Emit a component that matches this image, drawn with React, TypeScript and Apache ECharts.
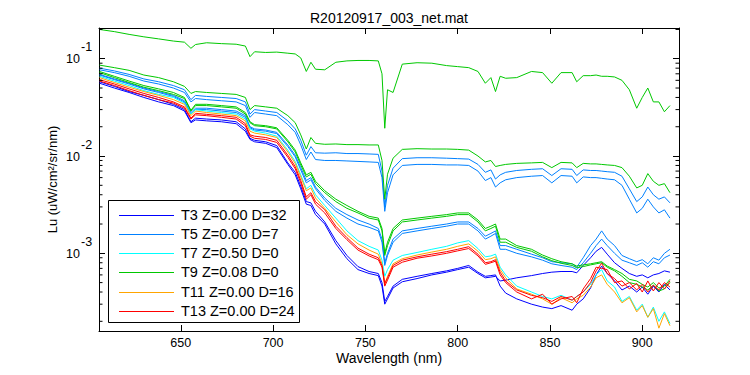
import React, { useEffect, useRef } from "react";
import * as echarts from "echarts";

const FONT = "'Liberation Sans', Arial, Helvetica, sans-serif";
const TITLE = "R20120917_003_net.mat";
const X_LABEL = "Wavelength (nm)";
const Y_LABEL = "Lu (uW/cm²/sr/nm)";
const X_TICKS = [650, 700, 750, 800, 850, 900];
const Y_DECADES = [-1, -2, -3];
const MINOR_MULTIPLIERS = [2, 3, 4, 5, 6, 7, 8, 9];
const MINOR_DECADES = [-4, -3, -2, -1];
const X_MIN = 605.7;
const X_MAX = 919.9;
const Y_MIN = 1.59e-4;
const Y_MAX = 0.207;

const T3 = "T3 Z=0.00 D=32";
const T5 = "T5 Z=0.00 D=7";
const T7 = "T7 Z=0.50 D=0";
const T9 = "T9 Z=0.08 D=0";
const T11 = "T11 Z=0.00 D=16";
const T13 = "T13 Z=0.00 D=24";
const LEGEND_NAMES = [T3, T5, T7, T9, T11, T13];
const LEGEND_COLORS = ["#0000ff", "#0080ff", "#00ffff", "#00c800", "#ffa500", "#ff0000"];
const colorOf = (name: string) => LEGEND_COLORS[LEGEND_NAMES.indexOf(name)];

const WAVELENGTH = [
  606, 614, 622, 630, 638, 646, 652, 655.5, 658, 664,
  672, 680, 685, 687.5, 690, 696, 702, 708, 712, 715,
  718, 720.5, 723, 728, 734, 740, 746, 752, 757, 759,
  760.5, 762, 765, 770, 778, 786, 794, 800, 806, 811,
  815, 818, 820.5, 823, 826, 832, 840, 846, 851, 856,
  862, 864.5, 868, 872, 875, 878, 881, 885, 889, 893,
  897, 900, 903, 906, 909, 912, 915,
];

const T3_A = [
  0.058, 0.052, 0.046, 0.042, 0.038, 0.034, 0.030, 0.0225, 0.0245, 0.024,
  0.0235, 0.0225, 0.019, 0.0152, 0.0145, 0.014, 0.0128, 0.0085, 0.0068, 0.0049,
  0.0034, 0.0033, 0.0027, 0.0021, 0.00135, 0.00095, 0.00073, 0.00065, 0.00062, 0.0005,
  0.00032, 0.00036, 0.00046, 0.00054, 0.00058, 0.00062, 0.00066, 0.0007, 0.00075, 0.00064,
  0.00058, 0.00059, 0.0006, 0.00046, 0.00039, 0.00034, 0.0003, 0.00028, 0.00027, 0.00029,
  0.00026, 0.0003, 0.00034, 0.00044, 0.0006, 0.00074, 0.00062, 0.00052, 0.00042, 0.00046,
  0.0004, 0.00045, 0.00038, 0.00046, 0.0004, 0.00048, 0.00042,
];
const T3_B = [
  0.056, 0.05, 0.045, 0.04, 0.036, 0.033, 0.029, 0.022, 0.0235, 0.023,
  0.0225, 0.0215, 0.018, 0.0148, 0.014, 0.0135, 0.0122, 0.0082, 0.0064, 0.0046,
  0.0032, 0.0031, 0.0025, 0.002, 0.00125, 0.00088, 0.00068, 0.00062, 0.00059, 0.00046,
  0.0003, 0.00034, 0.00044, 0.00051, 0.00055, 0.0006, 0.00064, 0.00068, 0.00072, 0.00062,
  0.00056, 0.00057, 0.00058, 0.00052, 0.00053, 0.00056, 0.00059, 0.00062, 0.00064, 0.00065,
  0.00065, 0.00063, 0.00075, 0.0009, 0.00105, 0.00115, 0.00098, 0.0008, 0.0007, 0.00062,
  0.00058, 0.0006, 0.00056, 0.0006, 0.00062, 0.00066, 0.00064,
];
const T5_UP_A = [
  0.08, 0.075, 0.069, 0.062, 0.058, 0.053, 0.048, 0.038, 0.042, 0.041,
  0.04, 0.039, 0.036, 0.027, 0.03, 0.029, 0.028, 0.023, 0.019, 0.0145,
  0.0102, 0.0125, 0.0108, 0.0107, 0.0108, 0.0106, 0.0106, 0.0105, 0.0104, 0.007,
  0.003, 0.005, 0.0075, 0.0094, 0.0096, 0.0096, 0.0095, 0.0094, 0.0093, 0.0082,
  0.0068, 0.0072, 0.0058, 0.0064, 0.0068, 0.0071, 0.0073, 0.0074, 0.0063, 0.0074,
  0.0073, 0.0063, 0.0072, 0.0071, 0.0071, 0.007, 0.0069, 0.0068, 0.0062, 0.0046,
  0.0034, 0.0038, 0.0048, 0.004, 0.0036, 0.0038, 0.0033,
];
const T5_UP_B = [
  0.077, 0.072, 0.066, 0.059, 0.055, 0.05, 0.045, 0.036, 0.039, 0.038,
  0.037, 0.036, 0.033, 0.025, 0.028, 0.027, 0.026, 0.021, 0.0175, 0.013,
  0.0092, 0.011, 0.0092, 0.009, 0.009, 0.0089, 0.0088, 0.0087, 0.0086, 0.006,
  0.0027, 0.0042, 0.0064, 0.008, 0.0082, 0.0082, 0.0081, 0.0081, 0.008, 0.007,
  0.0056, 0.006, 0.0048, 0.0053, 0.0057, 0.006, 0.0062, 0.0063, 0.0053, 0.0063,
  0.0062, 0.0053, 0.0061, 0.006, 0.006, 0.0059, 0.0058, 0.0057, 0.005, 0.0036,
  0.0026, 0.0029, 0.0036, 0.003, 0.0026, 0.0028, 0.0023,
];
const T5_LOW_A = [
  0.069, 0.062, 0.056, 0.05, 0.046, 0.042, 0.037, 0.028, 0.031, 0.031,
  0.03, 0.029, 0.026, 0.02, 0.019, 0.0185, 0.0175, 0.013, 0.0102, 0.0076,
  0.0056, 0.006, 0.0048, 0.0037, 0.0029, 0.0025, 0.0022, 0.002, 0.0018, 0.0014,
  0.0008, 0.001, 0.0014, 0.0017, 0.0018, 0.0019, 0.002, 0.0021, 0.0021, 0.0018,
  0.0015, 0.0016, 0.0017, 0.0012, 0.0012, 0.0011, 0.00098, 0.0009, 0.00082, 0.0008,
  0.00078, 0.00072, 0.0009, 0.0012, 0.0014, 0.0017, 0.0014, 0.0012, 0.00095, 0.00088,
  0.00082, 0.00086, 0.00078, 0.0009, 0.00085, 0.001, 0.0011,
];
const T5_LOW_B = [
  0.068, 0.061, 0.055, 0.049, 0.045, 0.041, 0.036, 0.027, 0.03, 0.03,
  0.029, 0.028, 0.025, 0.0195, 0.0185, 0.018, 0.017, 0.0125, 0.0098, 0.0072,
  0.0053, 0.0057, 0.0046, 0.0035, 0.0027, 0.0023, 0.002, 0.00185, 0.0017, 0.0013,
  0.00075, 0.00095, 0.0013, 0.0016, 0.0017, 0.0018, 0.0019, 0.002, 0.002, 0.0017,
  0.0014, 0.0015, 0.0016, 0.0011, 0.0011, 0.001, 0.00092, 0.00085, 0.00078, 0.00075,
  0.00072, 0.00068, 0.0008, 0.001, 0.0012, 0.0014, 0.0012, 0.001, 0.00085, 0.0008,
  0.00075, 0.0008, 0.00072, 0.00082, 0.00078, 0.0009, 0.00096,
];
const T7_A = [
  0.066, 0.059, 0.053, 0.047, 0.043, 0.04, 0.035, 0.027, 0.03, 0.029,
  0.028, 0.027, 0.024, 0.019, 0.018, 0.0172, 0.016, 0.0115, 0.0088, 0.0064,
  0.0046, 0.005, 0.004, 0.0031, 0.0023, 0.0017, 0.00135, 0.00118, 0.00108, 0.00085,
  0.00058, 0.00068, 0.00085, 0.00095, 0.00102, 0.0011, 0.00118, 0.00128, 0.00135, 0.00112,
  0.00092, 0.00094, 0.00098, 0.00072, 0.0006, 0.00046, 0.0004, 0.00036, 0.00034, 0.00037,
  0.00033, 0.00036, 0.0004, 0.00048, 0.0006, 0.00068, 0.00052, 0.00045, 0.00032, 0.00036,
  0.00026, 0.0003, 0.00022, 0.00028, 0.0002, 0.00025, 0.00019,
];
const T9_TOP = [
  0.2, 0.19, 0.178, 0.168, 0.16, 0.152, 0.148, 0.128, 0.14, 0.146,
  0.143, 0.141, 0.135, 0.105, 0.118, 0.116, 0.117, 0.114, 0.112, 0.102,
  0.074, 0.092, 0.078, 0.077, 0.092, 0.095, 0.096, 0.096, 0.095, 0.07,
  0.0193, 0.048, 0.045, 0.088, 0.091, 0.09, 0.085, 0.083, 0.081, 0.074,
  0.056, 0.064, 0.046, 0.066, 0.063, 0.064, 0.074, 0.072, 0.056, 0.072,
  0.072, 0.058, 0.067, 0.067, 0.068, 0.066, 0.066, 0.065, 0.06, 0.048,
  0.031, 0.04, 0.05, 0.036, 0.036, 0.0285, 0.033,
];
const T9_UP = [
  0.086, 0.081, 0.076, 0.068, 0.064, 0.058, 0.052, 0.044, 0.046, 0.045,
  0.044, 0.043, 0.04, 0.03, 0.033, 0.032, 0.031, 0.026, 0.022, 0.0165,
  0.0118, 0.0155, 0.0135, 0.0132, 0.0133, 0.0131, 0.0131, 0.013, 0.013, 0.009,
  0.0036, 0.0065, 0.0095, 0.0117, 0.0119, 0.0118, 0.0118, 0.0117, 0.0115, 0.01,
  0.0087, 0.009, 0.0078, 0.008, 0.0082, 0.0084, 0.0085, 0.0086, 0.0076, 0.0086,
  0.0085, 0.0076, 0.0084, 0.0083, 0.0083, 0.0082, 0.0081, 0.008, 0.0076, 0.0062,
  0.0047, 0.005, 0.0066, 0.0055, 0.005, 0.0052, 0.0042,
];
const T9_LOW_A = [
  0.074, 0.066, 0.059, 0.053, 0.049, 0.045, 0.04, 0.0295, 0.034, 0.034,
  0.033, 0.032, 0.028, 0.0225, 0.021, 0.0205, 0.0195, 0.0145, 0.0115, 0.0085,
  0.0064, 0.0068, 0.0055, 0.0044, 0.0036, 0.0031, 0.0027, 0.0024, 0.0023, 0.0018,
  0.001, 0.0013, 0.0018, 0.0022, 0.0023, 0.0024, 0.0025, 0.0026, 0.0026, 0.0022,
  0.0018, 0.0019, 0.002, 0.0014, 0.0014, 0.0012, 0.0011, 0.00096, 0.00088, 0.00082,
  0.00078, 0.00074, 0.00076, 0.00078, 0.0008, 0.00082, 0.00074, 0.00068, 0.00062, 0.00054,
  0.00052, 0.00048, 0.00045, 0.0005, 0.00044, 0.00046, 0.00054,
];
const T9_LOW_B = [
  0.072, 0.064, 0.057, 0.051, 0.047, 0.043, 0.039, 0.029, 0.033, 0.033,
  0.032, 0.031, 0.027, 0.022, 0.0205, 0.02, 0.019, 0.014, 0.011, 0.0081,
  0.0061, 0.0065, 0.0052, 0.0042, 0.0034, 0.0029, 0.0026, 0.0023, 0.0022, 0.0017,
  0.00095, 0.0012, 0.0017, 0.0021, 0.0022, 0.0023, 0.0024, 0.0025, 0.0025, 0.0021,
  0.0017, 0.0018, 0.0019, 0.0013, 0.0013, 0.00115, 0.00105, 0.00092, 0.00084, 0.00079,
  0.00075, 0.00071, 0.00073, 0.00076, 0.00078, 0.0008, 0.00072, 0.00066, 0.00058, 0.0005,
  0.00048, 0.00045, 0.00042, 0.00047, 0.00041, 0.00043, 0.0005,
];
const T11_A = [
  0.064, 0.057, 0.051, 0.046, 0.042, 0.038, 0.034, 0.026, 0.029, 0.028,
  0.027, 0.026, 0.023, 0.018, 0.0172, 0.0165, 0.0155, 0.011, 0.0084, 0.0061,
  0.0044, 0.0047, 0.0037, 0.0029, 0.0021, 0.00155, 0.00125, 0.00108, 0.00098, 0.00078,
  0.00048, 0.00058, 0.00078, 0.00088, 0.00096, 0.00103, 0.0011, 0.00118, 0.00125, 0.00105,
  0.00086, 0.00088, 0.00092, 0.00068, 0.00056, 0.00043, 0.00038, 0.00034, 0.0003, 0.00035,
  0.00031, 0.00034, 0.00037, 0.00045, 0.00056, 0.0006, 0.00048, 0.0004, 0.00031, 0.00035,
  0.00025, 0.00029, 0.00022, 0.00027, 0.00017, 0.00024, 0.00018,
];
const T13_A = [
  0.061, 0.055, 0.049, 0.044, 0.04, 0.036, 0.032, 0.0245, 0.0275, 0.0268,
  0.026, 0.025, 0.0215, 0.0165, 0.016, 0.0155, 0.0145, 0.0102, 0.0078, 0.0056,
  0.0038, 0.0042, 0.0034, 0.0028, 0.0019, 0.00145, 0.00113, 0.00098, 0.0009, 0.00075,
  0.00049, 0.00056, 0.00075, 0.00085, 0.00092, 0.00098, 0.00104, 0.0011, 0.00117, 0.00098,
  0.0008, 0.00082, 0.00086, 0.00064, 0.00052, 0.00042, 0.00037, 0.00035, 0.00032, 0.00036,
  0.00033, 0.00036, 0.0004, 0.0005, 0.00066, 0.00079, 0.00062, 0.00055, 0.00046, 0.0005,
  0.00042, 0.00048, 0.0004, 0.00047, 0.00042, 0.0005, 0.00045,
];
const T13_B = [
  0.059, 0.053, 0.047, 0.042, 0.038, 0.035, 0.031, 0.024, 0.0265, 0.026,
  0.025, 0.024, 0.0205, 0.016, 0.0152, 0.0148, 0.0138, 0.0097, 0.0074, 0.0053,
  0.0036, 0.004, 0.0032, 0.0026, 0.0018, 0.00138, 0.00108, 0.00094, 0.00086, 0.00072,
  0.00046, 0.00053, 0.00072, 0.00081, 0.00089, 0.00094, 0.001, 0.00106, 0.00112, 0.00094,
  0.00077, 0.0008, 0.00083, 0.0006, 0.0005, 0.0004, 0.00034, 0.00038, 0.0003, 0.00034,
  0.00036, 0.00031, 0.00043, 0.00055, 0.00072, 0.0007, 0.00068, 0.0005, 0.00052, 0.00043,
  0.00049, 0.0004, 0.00052, 0.00041, 0.0005, 0.00043, 0.00052,
];

const SERIES_DEFS: [string, number[]][] = [
  [T3, T3_A],
  [T3, T3_B],
  [T5, T5_UP_A],
  [T5, T5_UP_B],
  [T5, T5_LOW_A],
  [T5, T5_LOW_B],
  [T7, T7_A],
  [T9, T9_TOP],
  [T9, T9_UP],
  [T9, T9_LOW_A],
  [T9, T9_LOW_B],
  [T11, T11_A],
  [T13, T13_A],
  [T13, T13_B],
];

const axisLine = { show: true, onZero: false, lineStyle: { color: "#000", width: 1 } };
const tickIn = { show: true, inside: true, length: 6, lineStyle: { color: "#000", width: 1 } };

export default function App() {
  const ref = useRef<HTMLDivElement>(null);
  useEffect(() => {
    document.body.style.margin = "0";
    const chart = echarts.init(ref.current!, null, { renderer: "svg" });
    const option: any = {
      animation: false,
      backgroundColor: "#ffffff",
      textStyle: { fontFamily: FONT, color: "#000" },
      grid: { left: 99, right: 71, top: 28, bottom: 44, containLabel: false, outerBoundsMode: "none" },
      xAxis: [
        {
          type: "value",
          position: "bottom",
          min: X_MIN,
          max: X_MAX,
          axisLine,
          axisTick: tickIn,
          splitLine: { show: false },
          axisLabel: {
            show: true,
            margin: 5,
            color: "#000",
            fontSize: 12.5,
            fontFamily: FONT,
            formatter: (v: number) => (X_TICKS.includes(v) ? String(v) : ""),
          },
        },
        {
          type: "value",
          position: "top",
          min: X_MIN,
          max: X_MAX,
          axisLine,
          axisTick: tickIn,
          splitLine: { show: false },
          axisLabel: { show: false },
        },
      ],
      yAxis: [
        {
          type: "log",
          logBase: 10,
          position: "left",
          min: Y_MIN,
          max: Y_MAX,
          axisLine,
          axisTick: tickIn,
          splitLine: { show: false },
          axisLabel: { show: false },
        },
        {
          type: "log",
          logBase: 10,
          position: "right",
          min: Y_MIN,
          max: Y_MAX,
          axisLine,
          axisTick: tickIn,
          splitLine: { show: false },
          axisLabel: { show: false },
        },
      ],
      series: SERIES_DEFS.map(([name, vals]) => ({
        type: "line",
        name,
        xAxisIndex: 0,
        yAxisIndex: 0,
        data: WAVELENGTH.map((w, i) => [w, vals[i]]),
        showSymbol: false,
        symbol: "none",
        silent: true,
        color: colorOf(name),
        lineStyle: { color: colorOf(name), width: 1 },
      })),
    };
    chart.setOption(option);

    const toPx = (x: number, y: number) =>
      chart.convertToPixel({ seriesIndex: 0 }, [x, y]) as number[];
    const [xl, yb] = toPx(X_MIN, Y_MIN);
    const [xr, yt] = toPx(X_MAX, Y_MAX);
    const g: any[] = [];
    const txt = (id: string, text: string, x: number, y: number, size: number, align: string, extra: any = {}) => ({
      type: "text",
      id,
      x,
      y,
      z: 300,
      ...extra,
      style: {
        text,
        fill: "#000",
        fontFamily: FONT,
        fontSize: size,
        textAlign: align,
        align,
        textVerticalAlign: "middle",
        verticalAlign: "middle",
      },
    });
    g.push(txt("title", TITLE, (xl + xr) / 2, 18, 14, "center"));
    g.push(txt("xname", X_LABEL, (xl + xr) / 2, yb + 27, 14, "center"));
    g.push(txt("yname", Y_LABEL, xl - 47, (yt + yb) / 2, 13, "center", { rotation: Math.PI / 2 }));
    for (const e of Y_DECADES) {
      const [, y] = toPx(X_MIN, Math.pow(10, e));
      g.push(txt("yb" + e, "10", xl - 19, y + 0.5, 12.5, "right"));
      g.push(txt("ye" + e, String(e), xl - 18, y - 11.5, 12.5, "left"));
    }
    for (const e of MINOR_DECADES) {
      for (const m of MINOR_MULTIPLIERS) {
        const v = m * Math.pow(10, e);
        if (v <= Y_MIN || v >= Y_MAX) continue;
        const [, y] = toPx(X_MIN, v);
        g.push({ type: "line", id: `ml${e}_${m}`, z: 300, shape: { x1: xl, y1: y, x2: xl + 3.5, y2: y }, style: { stroke: "#000", lineWidth: 1 } });
        g.push({ type: "line", id: `mr${e}_${m}`, z: 300, shape: { x1: xr - 3.5, y1: y, x2: xr, y2: y }, style: { stroke: "#000", lineWidth: 1 } });
      }
    }
    g.push({
      type: "rect",
      id: "legendbox",
      z: 150,
      shape: { x: 108.5, y: 200.5, width: 191, height: 122 },
      style: { fill: "#ffffff", stroke: "#000000", lineWidth: 1 },
    });
    LEGEND_NAMES.forEach((name, i) => {
      const y = 214.5 + i * 19.3;
      g.push({
        type: "rect",
        id: "lgsw" + i,
        z: 160,
        shape: { x: 119, y: Math.round(y), width: 55, height: 1 },
        style: { fill: LEGEND_COLORS[i], stroke: "none" },
      });
      g.push({
        type: "text",
        id: "lgtx" + i,
        x: 181,
        y,
        z: 160,
        style: {
          text: name,
          fill: "#000",
          fontFamily: FONT,
          fontSize: 14.5,
          textAlign: "left",
          align: "left",
          textVerticalAlign: "middle",
          verticalAlign: "middle",
        },
      });
    });
    chart.setOption({ graphic: { elements: g } });
    return () => chart.dispose();
  }, []);
  return <div ref={ref} style={{ width: 750, height: 375 }} />;
}
